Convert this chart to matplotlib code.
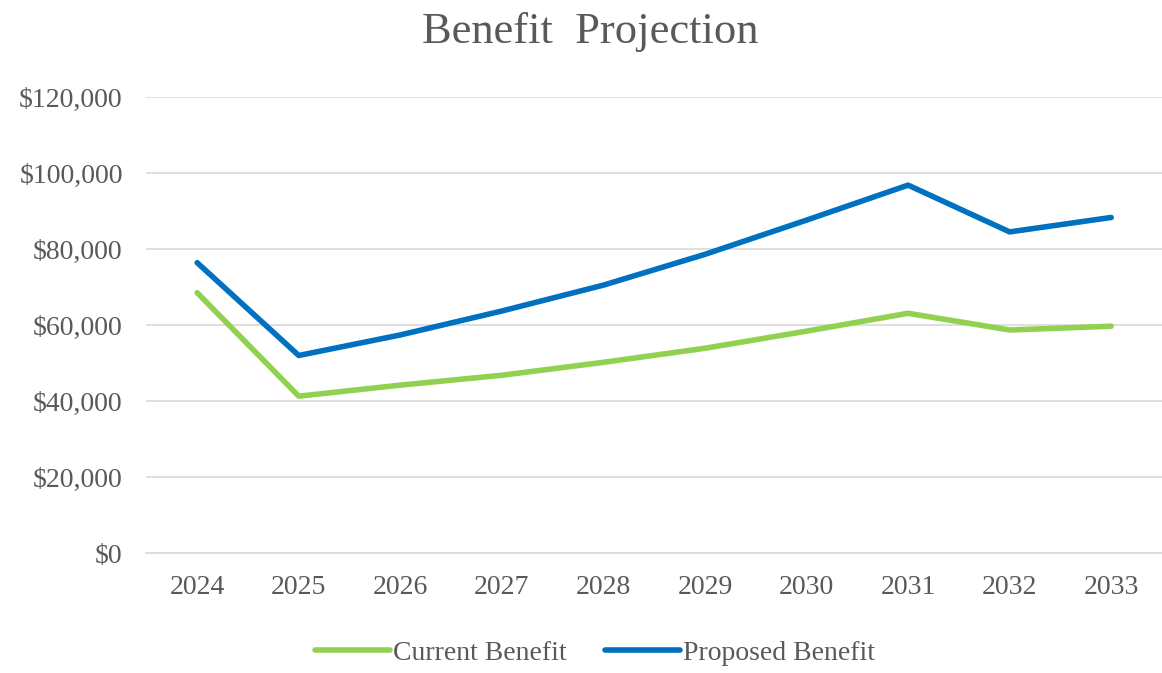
import numpy as np
import matplotlib.pyplot as plt
from matplotlib.ticker import FuncFormatter

# données
annees = ['2024', '2025', '2026', '2027', '2028', '2029', '2030', '2031', '2032', '2033']
actuel = [68500, 41300, 44200, 46800, 50200, 53900, 58400, 63100, 58700, 59700]
propose = [76400, 52000, 57400, 63700, 70500, 78600, 87600, 96800, 84500, 88300]

gris = '#595959'
plt.rcParams['font.family'] = ['Liberation Serif', 'DejaVu Serif']

fig = plt.figure(figsize=(11.62, 6.73), dpi=100)
ax = fig.add_axes([0.126, 0.178, 0.874, 0.678])

x = np.arange(len(annees))
ax.plot(x, actuel, color='#92D050', lw=4, solid_capstyle='round', label='Current Benefit')
ax.plot(x, propose, color='#0070C0', lw=4, solid_capstyle='round', label='Proposed Benefit')

ax.set_xlim(-0.5, len(annees) - 0.5)
ax.set_ylim(0, 120000)
ax.set_yticks(np.arange(0, 120001, 20000))
ax.yaxis.set_major_formatter(FuncFormatter(lambda v, p: f"${v:,.0f}"))
ax.set_xticks(x)
ax.set_xticklabels(annees)
ax.grid(axis='y', color='#D9D9D9', lw=1.2)
ax.set_axisbelow(True)
for s in ['top', 'right', 'left']:
    ax.spines[s].set_visible(False)
ax.spines['bottom'].set_color('#D9D9D9')
ax.spines['bottom'].set_linewidth(1.2)
ax.tick_params(length=0, labelsize=20, labelcolor=gris)
ax.tick_params(axis='x', pad=16)
ax.tick_params(axis='y', pad=17)

fig.text(0.508, 0.952, "Benefit  Projection", ha='center', va='center', fontsize=32, color=gris)
fig.legend(loc='center', bbox_to_anchor=(0.512, 0.03), ncol=2, frameon=False,
           fontsize=20, labelcolor=gris, handlelength=2.7, handletextpad=0.1, columnspacing=1.4)

fig.savefig('out.png', dpi=100)
